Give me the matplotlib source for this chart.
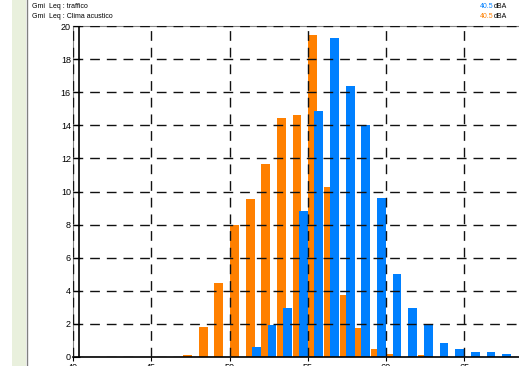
import matplotlib
matplotlib.use('Agg')
import matplotlib.pyplot as plt
import numpy as np
from matplotlib.patches import Rectangle
from matplotlib.lines import Line2D

plt.rcParams['font.family'] = ['Liberation Sans', 'DejaVu Sans']

# level classes (dBA) and counts (%)
traffico_bins = np.arange(51, 68)
traffico = [0.63, 1.92, 2.99, 8.8, 14.87, 19.3, 16.4, 14.0, 9.63, 5.04,
            2.96, 1.94, 0.84, 0.51, 0.33, 0.33, 0.2]
clima_bins = np.arange(47, 63)
clima = [0.14, 1.84, 4.5, 7.96, 9.54, 11.66, 14.44, 14.63, 19.47, 10.26,
         3.72, 1.73, 0.5, 0.2, 0.0, 0.15]
labels = ["Gmi  Leq : traffico", "Gmi  Leq : Clima acustico"]
leq = ["40.5", "40.5"]
blue = '#0080ff'
orange = '#ff8000'

W, H = 519, 366
fig = plt.figure(figsize=(W / 100, H / 100), dpi=100)

# side strip + separator
fig.patches.append(Rectangle((12 / W, 0), 14 / W, 1, transform=fig.transFigure,
                             facecolor='#e9f0dd', edgecolor='none'))
fig.lines.append(Line2D([27 / W, 27 / W], [0, 1], transform=fig.transFigure,
                        color='#808080', lw=1))

# header
for i, (lab, col) in enumerate(zip(labels, [blue, orange])):
    y = 1 - (6 + 11 * i) / H
    fig.text(32 / W, y, lab, fontsize=5, va='center', ha='left')
    fig.text(494 / W, y, leq[i], fontsize=5, va='center', ha='right', color=col)
    fig.text(494 / W, y, "dBA", fontsize=5, va='center', ha='left')

ax = fig.add_axes([73 / W, 9 / H, (W - 73) / W, (357 - 26) / H])
ax.bar(clima_bins + 0.04, clima, width=0.56, align='edge', color=orange, zorder=1)
ax.bar(traffico_bins + 0.43, traffico, width=0.56, align='edge', color=blue, zorder=2)

ax.set_xlim(40, 40 + (W - 73) / 15.65)
ax.set_ylim(0, 20)
ax.set_yticks(np.arange(0, 21, 2))
ax.set_xticks(np.arange(40, 70, 5))
ax.tick_params(axis='y', direction='in', length=5, width=0.8, pad=1.5, labelsize=6.5)
ax.tick_params(axis='x', direction='out', length=3, width=0.8, pad=1, labelsize=6.5)

ax.grid(True, color='#111111', linestyle=(0, (7, 5)), linewidth=1, zorder=3)
ax.set_axisbelow(False)

ax.spines['right'].set_visible(False)
ax.spines['top'].set_color('#808080')
ax.spines['left'].set_color('#808080')
ax.spines['left'].set_linewidth(0.8)
ax.spines['bottom'].set_linewidth(1.2)
ax.axvline(40.4, color='black', lw=1.2, zorder=4)

fig.savefig('out.png', dpi=100)
